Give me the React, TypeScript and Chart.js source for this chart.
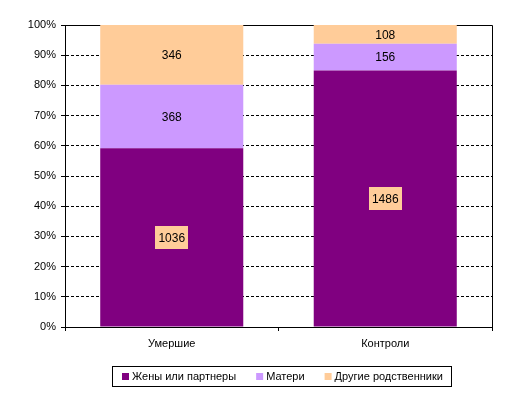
import { useEffect, useRef } from 'react';
import { Chart, registerables } from 'chart.js';

Chart.register(...registerables);

const categories = ['Умершие', 'Контроли'];
const seriesLabels = ['Жены или партнеры', 'Матери', 'Другие родственники'];
const partners = [1036, 1486];
const mothers = [368, 156];
const others = [346, 108];
const seriesColors = ['#800080', '#CC99FF', '#FFCC99'];
const yTickValues = [0, 10, 20, 30, 40, 50, 60, 70, 80, 90, 100];

const FONT = '"Liberation Sans", Arial, sans-serif';

const rawSeries = [partners, mothers, others];
const totals = categories.map((_, i) => rawSeries.reduce((s, arr) => s + arr[i], 0));
const percentSeries = rawSeries.map((arr) => arr.map((v, i) => (v / totals[i]) * 100));

const framePlugin = {
  id: 'frame',
  beforeDatasetsDraw(chart: any) {
    const { ctx, chartArea } = chart;
    ctx.save();
    ctx.strokeStyle = '#000';
    ctx.lineWidth = 1;
    ctx.beginPath();
    ctx.moveTo(Math.round(chartArea.left) + 0.5, Math.round(chartArea.top) + 0.5);
    ctx.lineTo(Math.round(chartArea.right) + 0.5, Math.round(chartArea.top) + 0.5);
    ctx.lineTo(Math.round(chartArea.right) + 0.5, Math.round(chartArea.bottom) + 0.5);
    ctx.stroke();
    ctx.restore();
  },
};

const labelPlugin = {
  id: 'segLabels',
  afterDatasetsDraw(chart: any) {
    const { ctx } = chart;
    ctx.save();
    ctx.font = `12px ${FONT}`;
    ctx.textAlign = 'center';
    ctx.textBaseline = 'middle';
    chart.data.datasets.forEach((ds: any, di: number) => {
      const meta = chart.getDatasetMeta(di);
      meta.data.forEach((el: any, i: number) => {
        const text = String(ds.raw[i]);
        const x = el.x;
        const y = (el.y + el.base) / 2;
        if (di === 0) {
          const w = ctx.measureText(text).width + 6;
          const h = 23;
          ctx.fillStyle = '#FFCC99';
          ctx.fillRect(Math.round(x - w / 2), Math.round(y - h / 2), Math.round(w), h);
        }
        ctx.fillStyle = '#000';
        ctx.fillText(text, x, y + 1);
      });
    });
    ctx.restore();
  },
};

const legendPlugin = {
  id: 'boxLegend',
  afterDraw(chart: any) {
    const { ctx } = chart;
    ctx.save();
    ctx.font = `11px ${FONT}`;
    const datasets = chart.data.datasets;
    const padL = 10;
    const padR = 8;
    const marker = 7;
    const gapMarkerText = 3;
    const gapItems = 20;
    const widths = datasets.map((d: any) => ctx.measureText(d.label).width);
    let total = padL + padR;
    widths.forEach((w: number, i: number) => {
      total += marker + gapMarkerText + w + (i < widths.length - 1 ? gapItems : 0);
    });
    const cx = 281;
    const top = 366;
    const h = 20;
    const left = Math.round(cx - total / 2);
    ctx.fillStyle = '#fff';
    ctx.fillRect(left, top, Math.round(total), h);
    ctx.strokeStyle = '#000';
    ctx.lineWidth = 1;
    ctx.strokeRect(left + 0.5, top + 0.5, Math.round(total), h);
    let x = left + padL;
    const midY = top + h / 2 + 0.5;
    ctx.textBaseline = 'middle';
    ctx.textAlign = 'left';
    datasets.forEach((d: any, i: number) => {
      ctx.fillStyle = d.backgroundColor;
      ctx.fillRect(x, Math.round(midY - marker / 2), marker, marker);
      x += marker + gapMarkerText;
      ctx.fillStyle = '#000';
      ctx.fillText(d.label, x, midY);
      x += widths[i] + gapItems;
    });
    ctx.restore();
  },
};

export default function App() {
  const ref = useRef<HTMLCanvasElement | null>(null);

  useEffect(() => {
    if (!ref.current) return;
    const chart = new Chart(ref.current, {
      type: 'bar',
      data: {
        labels: categories,
        datasets: seriesLabels.map((label, i) => ({
          label,
          data: percentSeries[i],
          raw: rawSeries[i],
          backgroundColor: seriesColors[i],
          borderWidth: 0,
          categoryPercentage: 1,
          barPercentage: 0.67,
        })) as any,
      },
      options: {
        responsive: false,
        animation: false,
        devicePixelRatio: 1,
        layout: { padding: { top: 25, right: 15, bottom: 0, left: 0 } },
        plugins: {
          legend: { display: false },
          tooltip: { enabled: false },
        },
        scales: {
          x: {
            stacked: true,
            afterFit: (scale: any) => {
              scale.height = 68;
            },
            grid: {
              offset: true,
              drawOnChartArea: false,
              drawTicks: true,
              tickLength: 4,
              color: '#000',
              tickColor: '#000',
            },
            border: { display: true, color: '#000', width: 1 },
            ticks: {
              color: '#000',
              font: { family: FONT, size: 11 },
              padding: 6,
              maxRotation: 0,
            },
          },
          y: {
            stacked: true,
            min: 0,
            max: 100,
            afterFit: (scale: any) => {
              scale.width = 65;
            },
            afterBuildTicks: (scale: any) => {
              scale.ticks = yTickValues.map((v) => ({ value: v }));
            },
            grid: {
              color: '#000',
              tickColor: '#000',
              tickLength: 4,
              tickBorderDash: [],
            },
            border: { display: true, color: '#000', width: 1, dash: [3, 2] },
            ticks: {
              color: '#000',
              font: { family: FONT, size: 11 },
              padding: 5,
              callback: (v: any) => `${v}%`,
            },
          },
        },
      },
      plugins: [framePlugin, labelPlugin, legendPlugin],
    });
    return () => chart.destroy();
  }, []);

  return (
    <div style={{ position: 'fixed', left: 0, top: 0, width: 507, height: 395, background: '#fff' }}>
      <canvas ref={ref} width={507} height={395} style={{ width: 507, height: 395, display: 'block' }} />
    </div>
  );
}
